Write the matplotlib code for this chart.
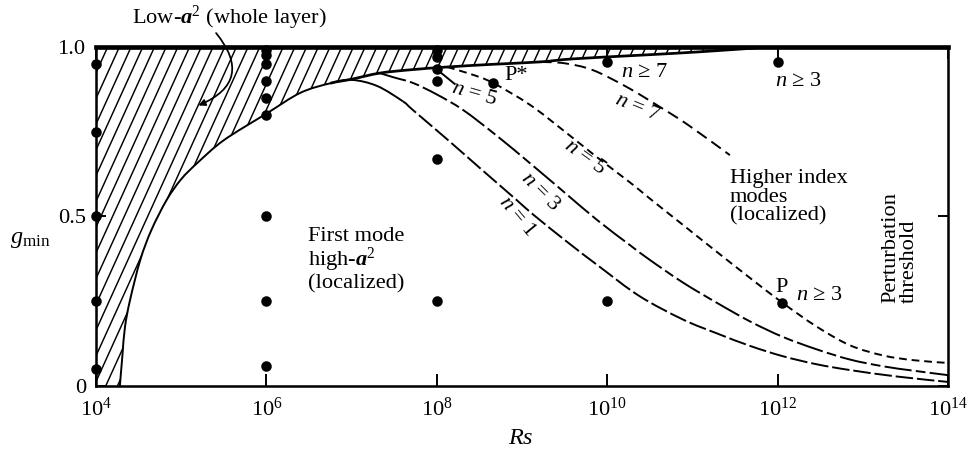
import matplotlib
matplotlib.use('Agg')
import matplotlib.pyplot as plt
from matplotlib.path import Path
from matplotlib.patches import PathPatch
from matplotlib.collections import LineCollection
import numpy as np

plt.rcParams['font.family'] = ['Liberation Serif', 'DejaVu Serif']
plt.rcParams['mathtext.fontset'] = 'custom'
plt.rcParams['mathtext.rm'] = 'Liberation Serif'
plt.rcParams['mathtext.it'] = 'Liberation Serif:italic'
plt.rcParams['mathtext.bf'] = 'Liberation Serif:bold'
try:
    plt.rcParams['mathtext.bfit'] = 'Liberation Serif:italic:bold'
    BFA = '\\mathbfit{a}'
except KeyError:
    BFA = '\\mathbf{a}'
plt.rcParams['lines.scale_dashes'] = False

# ---------------- data (log10 Rs, g_min) ----------------
# rising boundary of first mode (left branch, solid) up to its peak
rise_logx = [4.28, 4.31, 4.34, 4.40, 4.52, 4.65, 4.83, 5.00, 5.19, 5.50, 6.01, 6.40, 6.75, 7.00, 7.30, 7.60]
rise_g    = [0.00, 0.09, 0.174, 0.254, 0.372, 0.46, 0.549, 0.61, 0.658, 0.725, 0.805, 0.865, 0.893, 0.903, 0.885, 0.84]

# n = 1 descending branch
n1_logx = [7.60, 7.72, 8.12, 8.51, 8.94, 9.13, 9.53, 9.92, 10.38, 10.89, 11.29, 11.68, 12.06, 12.46, 12.85, 13.40, 14.0]
n1_g    = [0.84, 0.814, 0.728, 0.642, 0.548, 0.506, 0.425, 0.35, 0.265, 0.196, 0.155, 0.118, 0.088, 0.064, 0.047, 0.028, 0.012]

# n = 3
n3_logx = [7.33, 7.50, 7.72, 8.00, 8.31, 8.71, 9.09, 9.48, 9.88, 10.27, 10.50, 10.89, 11.29, 11.68, 12.06, 12.46, 12.85, 13.24, 13.60, 14.0]
n3_g    = [0.923, 0.91, 0.894, 0.86, 0.814, 0.737, 0.658, 0.575, 0.49, 0.415, 0.372, 0.305, 0.245, 0.19, 0.145, 0.108, 0.078, 0.058, 0.045, 0.032]

# n = 5
n5_logx = [8.12, 8.40, 8.66, 9.09, 9.48, 9.88, 10.27, 10.50, 10.89, 11.29, 11.68, 12.06, 12.46, 12.85, 13.24, 13.60, 14.0]
n5_g    = [0.941, 0.92, 0.894, 0.83, 0.755, 0.675, 0.60, 0.553, 0.475, 0.395, 0.318, 0.245, 0.175, 0.12, 0.09, 0.076, 0.068]

# n = 7 (higher index modes)
n7_logx = [9.21, 9.50, 9.83, 10.23, 10.62, 10.95, 11.44]
n7_g    = [0.956, 0.952, 0.932, 0.882, 0.823, 0.77, 0.681]

# upper envelope (lower edge of hatched low-a^2 region)
env_logx = [6.75, 7.00, 7.33, 7.70, 8.12, 8.66, 9.21, 9.60, 10.40, 11.10, 11.90]
env_g    = [0.893, 0.905, 0.923, 0.933, 0.941, 0.949, 0.956, 0.965, 0.976, 0.986, 1.0]

# computed points
pts_logx = [4, 4, 4, 4, 4,
            6, 6, 6, 6, 6, 6, 6, 6, 6,
            8, 8, 8, 8, 8, 8,
            10, 10,
            12]
pts_g    = [0.95, 0.75, 0.50, 0.25, 0.05,
            0.99, 0.975, 0.95, 0.90, 0.85, 0.80, 0.50, 0.25, 0.06,
            0.99, 0.97, 0.935, 0.90, 0.67, 0.25,
            0.955, 0.25,
            0.955]
pstar = (8.66, 0.894)
p_pt = (12.05, 0.245)

xtick_exp = [4, 6, 8, 10, 12, 14]
ytick_vals = [0, 0.5, 1.0]
ytick_labels = ['0', '0.5', '1.0']

# ---------------- helpers ----------------
def X(lx):
    return 10 ** np.asarray(lx, dtype=float)

def bezier_segments(lx, g, before=None, after=None):
    """Catmull-Rom (as cubic Bezier) through the read points, in log-x space."""
    P = np.column_stack([lx, g]).astype(float)
    n = len(P)
    verts, codes = [], []
    for i in range(n - 1):
        p0 = P[i - 1] if i > 0 else (np.array(before, float) if before is not None else P[i])
        p1, p2 = P[i], P[i + 1]
        p3 = P[i + 2] if i + 2 < n else (np.array(after, float) if after is not None else P[i + 1])
        verts += [p1 + (p2 - p0) / 6, p2 - (p3 - p1) / 6, p2]
        codes += [Path.CURVE4] * 3
    return verts, codes

def smooth_path(lx, g, before=None, after=None):
    verts, codes = bezier_segments(lx, g, before, after)
    V = np.array([[lx[0], g[0]]] + verts)
    V[:, 0] = X(V[:, 0])
    return Path(V, [Path.MOVETO] + codes)

# ---------------- figure ----------------
DPI = 140
fig = plt.figure(figsize=(970 / DPI, 456 / DPI), dpi=DPI)
ax = fig.add_axes([96 / 970, 70 / 456, 852 / 970, 339 / 456])
ax.set_xscale('log')
ax.set_xlim(1e4, 1e14)
ax.set_ylim(0, 1)

# hatched region (clip path)
b_lx = rise_logx[:13] + env_logx[1:]
b_g = rise_g[:13] + env_g[1:]
bv, bc = bezier_segments(b_lx, b_g)
verts = [[4.0, 0.0], [b_lx[0], b_g[0]]] + bv + [[4.0, 1.0], [4.0, 0.0]]
codes = [Path.MOVETO, Path.LINETO] + bc + [Path.LINETO, Path.CLOSEPOLY]
V = np.array(verts, float)
V[:, 0] = X(V[:, 0])
region = PathPatch(Path(V, codes), facecolor='none', edgecolor='none', lw=0)
ax.add_patch(region)

# steep hatch lines (drawn in axes fraction, clipped to region)
W, H = 852.0, 339.0
slope = 2.2
step = 11.7
segs = []
x0 = -H / slope
while x0 < W:
    segs.append([(x0 / W, 0.0), ((x0 + H / slope) / W, 1.0)])
    x0 += step
hatch = LineCollection(segs, colors='black', linewidths=0.75, transform=ax.transAxes)
hatch.set_clip_path(region)
ax.add_collection(hatch)

lw = 1.0
def add_curve(path, ls='-', width=lw):
    ax.add_patch(PathPatch(path, fill=False, edgecolor='black', lw=width, linestyle=ls,
                           capstyle='butt'))

add_curve(smooth_path(rise_logx, rise_g, after=(n1_logx[1], n1_g[1])))
add_curve(smooth_path(env_logx, env_g, before=(rise_logx[11], rise_g[11])), width=1.4)
add_curve(smooth_path(n1_logx, n1_g, before=(rise_logx[-2], rise_g[-2])), ls=(0, (9, 2)))
add_curve(smooth_path(n3_logx, n3_g), ls=(0, (14, 2.2, 5, 2.2)))
add_curve(smooth_path(n5_logx, n5_g), ls=(0, (4, 2.5)))
add_curve(smooth_path(n7_logx, n7_g), ls=(0, (6, 3)))

ax.plot(X(pts_logx), pts_g, 'o', color='black', ms=4.4, clip_on=False, zorder=5)
ax.plot(X([pstar[0]]), [pstar[1]], 'o', color='black', ms=4.4, zorder=5)
ax.plot(X([p_pt[0]]), [p_pt[1]], 'o', color='black', ms=4.4, zorder=5)

# leader line for first n = 5 label
ax.plot(X([8.01, 8.21]), [0.932, 0.891], color='black', lw=1.0)

fs = 11.5
ax.text(X(8.44), 0.862, '$n$ = 5', fontsize=fs, rotation=-16, ha='center', va='center')
ax.text(X(8.93), 0.917, 'P*', fontsize=fs, ha='center', va='center')
ax.text(X(10.44), 0.926, '$n$ ≥ 7', fontsize=fs, ha='center', va='center')
ax.text(X(12.24), 0.897, '$n$ ≥ 3', fontsize=fs, ha='center', va='center')
ax.text(X(10.36), 0.82, '$n$ = 7', fontsize=fs, rotation=-22, ha='center', va='center')
ax.text(X(9.74), 0.673, '$n$ = 5', fontsize=fs, rotation=-36, ha='center', va='center')
ax.text(X(9.22), 0.572, '$n$ = 3', fontsize=fs, rotation=-45, ha='center', va='center')
ax.text(X(8.94), 0.499, '$n$ = 1', fontsize=fs, rotation=-50, ha='center', va='center')
ax.text(X(12.05), 0.292, 'P', fontsize=fs, ha='center', va='center')
ax.text(X(12.49), 0.268, '$n$ ≥ 3', fontsize=fs, ha='center', va='center')

ax.text(X(6.49), 0.372, 'First mode\nhigh-$%s^2$\n(localized)' % BFA, fontsize=fs,
        ha='left', va='center', linespacing=1.0)
ax.text(X(11.44), 0.557, 'Higher index\nmodes\n(localized)', fontsize=fs,
        ha='left', va='center', linespacing=1.0)
ax.text(X(13.44), 0.245, 'Perturbation\nthreshold', fontsize=fs, rotation=90,
        ha='center', va='bottom', multialignment='left', linespacing=0.95)

# Low-a^2 label with curved arrow
ax.text(X(5.57), 1.085, 'Low-$%s^2$ (whole layer)' % BFA, fontsize=fs,
        ha='center', va='center', clip_on=False)
ax.annotate('', xy=(X(5.16), 0.823), xytext=(X(5.38), 1.05),
            arrowprops=dict(arrowstyle='-|>', color='black', lw=0.9,
                            mutation_scale=7,
                            connectionstyle='arc3,rad=-0.7'),
            annotation_clip=False)

# axes styling
for side in ['left', 'bottom', 'right']:
    ax.spines[side].set_linewidth(1.3)
ax.spines['top'].set_linewidth(2.4)

ax.set_xticks(X(xtick_exp))
ax.set_xticklabels(['$10^{%d}$' % e for e in xtick_exp], fontsize=fs)
ax.xaxis.set_minor_locator(matplotlib.ticker.NullLocator())
ax.set_yticks(ytick_vals)
ax.set_yticklabels(ytick_labels, fontsize=fs)
ax.tick_params(axis='x', direction='in', length=6, width=1.0, top=True, pad=6)
ax.tick_params(axis='y', direction='in', length=5, width=1.0, right=True, pad=5)

fig.text(30 / 970, 1 - 240 / 456, '$g_{\\mathrm{min}}$', fontsize=fs + 1, ha='center', va='center')
fig.text(521 / 970, 1 - 438 / 456, '$Rs$', fontsize=fs + 1, ha='center', va='center')

fig.savefig('out.png', dpi=DPI)
